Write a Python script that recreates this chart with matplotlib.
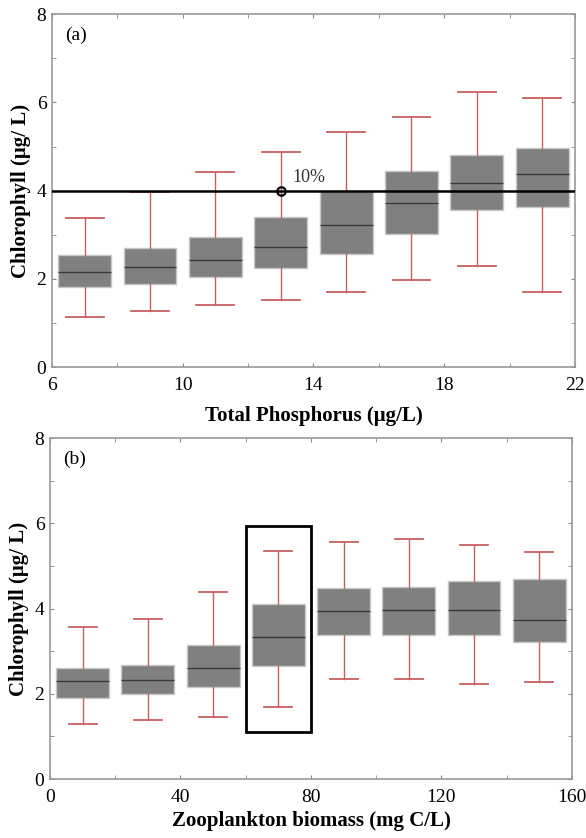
import matplotlib.pyplot as plt
from matplotlib.patches import Rectangle

plt.rcParams['font.family'] = ['Liberation Serif', 'DejaVu Serif']

# --- DATA ---
# (a) chlorophyll vs total phosphorus
tp_pos = [7, 9, 11, 13, 15, 17, 19, 21]
tp_low = [1.14, 1.28, 1.41, 1.53, 1.70, 1.98, 2.29, 1.70]
tp_q1 = [1.82, 1.88, 2.05, 2.25, 2.56, 3.02, 3.57, 3.63]
tp_med = [2.16, 2.26, 2.43, 2.72, 3.21, 3.73, 4.18, 4.38]
tp_q3 = [2.54, 2.69, 2.95, 3.41, 4.00, 4.44, 4.81, 4.96]
tp_high = [3.37, 3.96, 4.43, 4.87, 5.32, 5.67, 6.23, 6.11]
tp_ticks = [6, 10, 14, 18, 22]
tp_minor = [8, 12, 16, 20]
threshold = 4.0
thr_tp = 13
thr_label = "10%"

# (b) chlorophyll vs zooplankton biomass
zb_pos = [10, 30, 50, 70, 90, 110, 130, 150]
zb_low = [1.30, 1.38, 1.46, 1.68, 2.35, 2.34, 2.24, 2.28]
zb_q1 = [1.91, 1.99, 2.17, 2.65, 3.37, 3.39, 3.37, 3.22]
zb_med = [2.30, 2.32, 2.60, 3.34, 3.94, 3.97, 3.97, 3.73]
zb_q3 = [2.60, 2.68, 3.15, 4.11, 4.48, 4.51, 4.64, 4.70]
zb_high = [3.58, 3.75, 4.40, 5.35, 5.57, 5.63, 5.49, 5.34]
zb_ticks = [0, 40, 80, 120, 160]
zb_minor = [20, 60, 100, 140]
highlight_x = (60, 80)
highlight_y = (1.1, 5.95)

y_ticks = [0, 2, 4, 6, 8]
y_minor = [1, 3, 5, 7]

BOX_FC = '#808080'
BOX_EC = '#c8c8c8'
MED_C = '#3a3a3a'
WHISK_C = '#c86060'


def make_stats(low, q1, med, q3, high):
    return [dict(whislo=a, q1=b, med=c, q3=d, whishi=e, fliers=[])
            for a, b, c, d, e in zip(low, q1, med, q3, high)]


def draw_boxes(ax, stats, pos, width, capw):
    ax.bxp(stats, positions=pos, widths=width, patch_artist=True,
           showfliers=False, capwidths=capw, manage_ticks=False,
           boxprops=dict(facecolor=BOX_FC, edgecolor=BOX_EC, linewidth=1),
           medianprops=dict(color=MED_C, linewidth=1),
           whiskerprops=dict(color=WHISK_C, linewidth=1),
           capprops=dict(color=WHISK_C, linewidth=1.3))


def style_axes(ax, xt, xm):
    ax.set_xticks(xt)
    ax.set_xticks(xm, minor=True)
    ax.set_yticks(y_ticks)
    ax.set_yticks(y_minor, minor=True)
    ax.tick_params(which='both', direction='in', top=True, right=True,
                   color='#888888', labelsize=14, length=3)
    ax.tick_params(axis='x', pad=7)
    ax.tick_params(axis='y', pad=4)
    for s in ax.spines.values():
        s.set_color('#999999')
        s.set_linewidth(1.2)


fig = plt.figure(figsize=(5.86, 8.38), dpi=100)

# Panel (a)
ax1 = fig.add_axes([0.0887, 0.562, 0.8923, 0.421])
draw_boxes(ax1, make_stats(tp_low, tp_q1, tp_med, tp_q3, tp_high),
           tp_pos, 1.62, 1.16)
ax1.axhline(threshold, color='black', linewidth=1.8, zorder=5)
ax1.plot(thr_tp, threshold, 'o', mfc='none', mec='black', mew=1.6,
         markersize=6, zorder=6)
ax1.text(thr_tp + 0.35, threshold + 0.2, thr_label, fontsize=13,
         color='#333333')
ax1.set_xlim(6, 22)
ax1.set_ylim(0, 8)
style_axes(ax1, tp_ticks, tp_minor)
ax1.text(0.025, 0.965, '(a)', transform=ax1.transAxes, fontsize=14,
         va='top', ha='left')
ax1.set_xlabel('Total Phosphorus (\u03bcg/L)', fontsize=15,
               fontweight='bold', labelpad=9)
ax1.set_ylabel('Chlorophyll (\u03bcg/ L)', fontsize=15, fontweight='bold',
               labelpad=4)

# Panel (b)
ax2 = fig.add_axes([0.0853, 0.0704, 0.8907, 0.4066])
draw_boxes(ax2, make_stats(zb_low, zb_q1, zb_med, zb_q3, zb_high),
           zb_pos, 16.2, 8.6)
ax2.add_patch(Rectangle((highlight_x[0], highlight_y[0]),
                        highlight_x[1] - highlight_x[0],
                        highlight_y[1] - highlight_y[0],
                        fill=False, edgecolor='black', linewidth=2, zorder=6))
ax2.set_xlim(0, 160)
ax2.set_ylim(0, 8)
style_axes(ax2, zb_ticks, zb_minor)
ax2.text(0.025, 0.965, '(b)', transform=ax2.transAxes, fontsize=14,
         va='top', ha='left')
ax2.set_xlabel('Zooplankton biomass (mg C/L)', fontsize=15,
               fontweight='bold', labelpad=4)
ax2.set_ylabel('Chlorophyll (\u03bcg/ L)', fontsize=15, fontweight='bold',
               labelpad=4)

fig.savefig('out.png', dpi=100)
